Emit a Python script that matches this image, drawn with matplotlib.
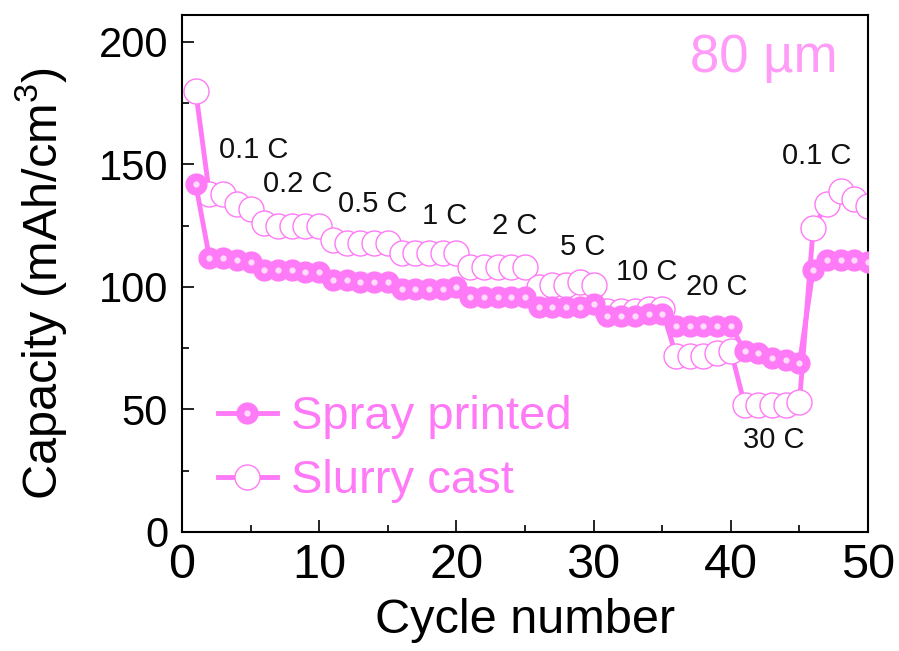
import matplotlib
matplotlib.use("Agg")
import matplotlib.pyplot as plt
from matplotlib.ticker import MultipleLocator
from matplotlib.legend_handler import HandlerTuple

plt.rcParams['font.family'] = ['Liberation Sans', 'DejaVu Sans']
plt.rcParams['mathtext.default'] = 'regular'

# cycle numbers and capacities (mAh/cm3)
cycles = list(range(1, 51))
spray_printed = [142, 112, 112, 111, 110,
                 107, 107, 107, 106, 106,
                 103, 103, 102, 102, 102,
                 99, 99, 99, 99, 100,
                 96, 96, 96, 96, 96,
                 92, 92, 92, 92, 93,
                 88, 88, 88, 89, 89,
                 84, 84, 84, 84, 84,
                 74, 73, 71, 70, 69,
                 107, 111, 111, 111, 110]
slurry_cast = [180, 138, 138, 134, 132,
               126, 125, 125, 125, 125,
               119, 118, 118, 118, 118,
               114, 114, 114, 114, 114,
               108, 108, 108, 108, 108,
               100, 101, 101, 102, 101,
               90, 90, 90, 91, 91,
               72, 72, 72, 73, 74,
               52, 52, 52, 52, 53,
               124, 134, 139, 136, 133]

rate_labels = ['0.1 C', '0.2 C', '0.5 C', '1 C', '2 C', '5 C', '10 C', '20 C', '30 C', '0.1 C']
rate_x = [2.7, 5.9, 11.4, 17.5, 22.6, 27.55, 31.6, 36.7, 40.9, 43.7]
rate_y = [156, 142, 134, 129, 125, 116.5, 106, 100, 37.5, 153.5]

pink = '#FF7AF6'
fig = plt.figure(figsize=(8.99, 6.51), dpi=100)
ax = fig.add_axes([0.2024, 0.1828, 0.7632, 0.7942])

l2, = ax.plot(cycles, slurry_cast, '-o', color=pink, lw=3.5, ms=18,
              mfc='white', mec=pink, mew=1.0, zorder=2)
l1, = ax.plot(cycles, spray_printed, '-o', color=pink, lw=3.5, ms=15,
              mfc=pink, mec=pink, zorder=3)
# little white highlight in the middle of the filled balls
h1, = ax.plot(cycles, spray_printed, 'o', ms=4.5, mfc='#FFE8FF', mec='none',
              alpha=0.9, zorder=4)

for lab, xx, yy in zip(rate_labels, rate_x, rate_y):
    ax.text(xx, yy, lab, fontsize=21, ha='left', va='center', color='#111111', zorder=5)

ax.text(47.8, 193.5, '80 µm', fontsize=38, ha='right', va='center', color='#FF9CF8')

leg = ax.legend([(l1, h1), l2], ['Spray printed', 'Slurry cast'],
                handler_map={tuple: HandlerTuple(ndivide=1, pad=0)},
                loc='lower left', bbox_to_anchor=(0.018, 0.01), frameon=False,
                fontsize=34, handlelength=1.25, handletextpad=0.3,
                labelspacing=0.42, borderaxespad=0.1, labelcolor=pink)

ax.set_xlim(0, 50)
ax.set_ylim(0, 211)
ax.xaxis.set_major_locator(MultipleLocator(10))
ax.xaxis.set_minor_locator(MultipleLocator(5))
ax.yaxis.set_major_locator(MultipleLocator(50))
ax.yaxis.set_minor_locator(MultipleLocator(25))
ax.tick_params(which='both', direction='in', width=1.2, top=False, right=False)
ax.tick_params(which='major', length=8.5)
ax.tick_params(which='minor', length=5)
ax.tick_params(axis='x', labelsize=35, pad=8)
ax.tick_params(axis='y', labelsize=30, pad=10)
for s in ax.spines.values():
    s.set_linewidth(1.5)

ax.set_xlabel('Cycle number', fontsize=35, labelpad=7)
ax.set_ylabel('Capacity (mAh/cm$^{3}$)', fontsize=35)
ax.yaxis.set_label_coords(-0.165, 0.48)

plt.savefig('out.png', dpi=100)
